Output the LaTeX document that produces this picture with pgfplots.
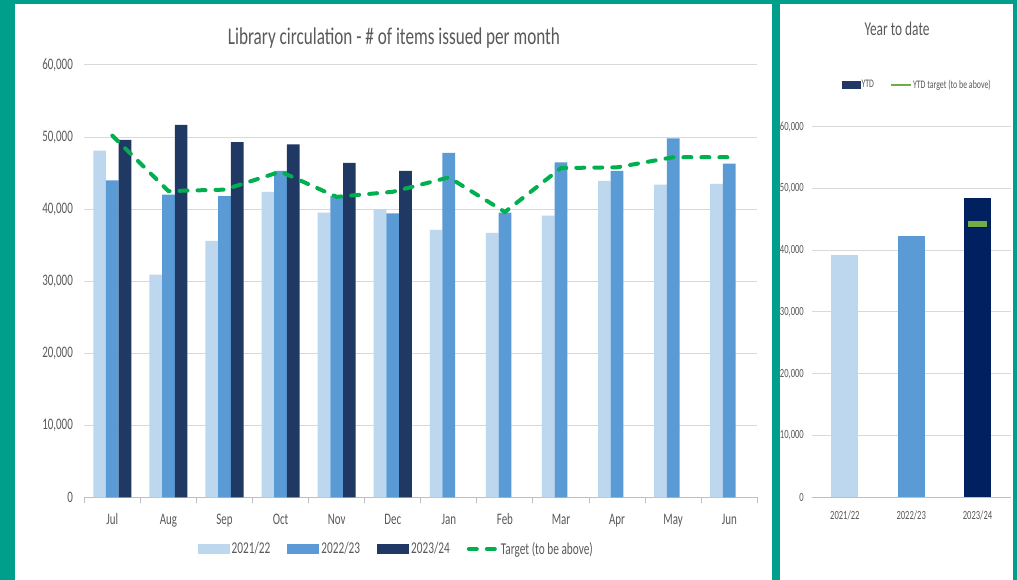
\documentclass[border=0pt]{standalone}
\usepackage{fontspec}
\setmainfont[FakeStretch=0.685]{Carlito}
\newfontfamily\titlefont[FakeStretch=0.715]{Carlito}
\usepackage{pgfplots}
\pgfplotsset{compat=1.18}
\definecolor{tealbg}{HTML}{009F8C}
\definecolor{clight}{HTML}{BDD7EE}
\definecolor{cmid}{HTML}{5B9BD5}
\definecolor{cdark}{HTML}{203864}
\definecolor{cnavy}{HTML}{002060}
\definecolor{cgreen}{HTML}{00B050}
\definecolor{cgreentwo}{HTML}{70AD47}
\definecolor{txtgray}{HTML}{595959}
\definecolor{gridgray}{HTML}{D9D9D9}
\definecolor{axisgray}{HTML}{BFBFBF}
\begin{document}
\begin{tikzpicture}[x=1pt,y=1pt]
\path[use as bounding box] (0,0) rectangle (1017,580);
\fill[tealbg] (0,0) rectangle (1017,580);
\fill[white] (15,0) rectangle (772,576);
\fill[white] (780,0) rectangle (1013,576);
\node[font=\titlefont\fontsize{24}{28}\selectfont, text=txtgray, anchor=base, inner sep=0pt] at (394,535) {Library circulation - \# of items issued per month};
\node[font=\fontsize{19.5}{23}\selectfont, text=txtgray, anchor=base, inner sep=0pt] at (897,544) {Year to date};

\begin{axis}[
  at={(84.3pt,82.7pt)}, anchor=south west, scale only axis,
  width=673pt, height=432.3pt,
  xmin=-0.5, xmax=11.5, ymin=0, ymax=60000,
  axis x line*=bottom, axis y line*=left,
  y axis line style={draw=none},
  x axis line style={draw=axisgray, line width=1pt},
  xtick={0,...,11},
  xticklabels={Jul,Aug,Sep,Oct,Nov,Dec,Jan,Feb,Mar,Apr,May,Jun},
  major x tick style={draw=none},
  minor xtick={-0.5,0.5,...,11.5},
  minor x tick style={draw=axisgray, line width=1pt},
  minor tick length=6pt, tick align=outside,
  ytick={0,10000,...,60000},
  ytick style={draw=none},
  ymajorgrids, grid style={draw=gridgray, line width=1pt},
  scaled y ticks=false,
  /pgf/number format/.cd, 1000 sep={,}, assume math mode=true, /pgfplots/.cd,
  tick label style={font=\fontsize{16}{19}\selectfont, text=txtgray},
  yticklabel style={anchor=east, inner sep=0pt, xshift=-7pt},
  xticklabel style={anchor=base, inner sep=0pt, yshift=-23pt},
  legend columns=4,
  legend style={at={(0.4635,-0.1196)}, anchor=center, draw=none, fill=none,
    font=\fontsize{16.5}{19}\selectfont, text=txtgray, inner sep=0pt,
    nodes={inner xsep=2pt, inner ysep=0pt},
    /tikz/every even column/.append style={column sep=15pt}},
]
\addplot[ybar, bar width=12.7pt, bar shift=-12.7pt, fill=clight, draw=none,
  legend image code/.code={\fill[clight] (0pt,-5pt) rectangle (32pt,5pt);}]
  coordinates {(0,48100) (1,30900) (2,35600) (3,42400) (4,39500) (5,40000)
               (6,37100) (7,36700) (8,39100) (9,43900) (10,43400) (11,43500)};
\addlegendentry{2021/22}
\addplot[ybar, bar width=12.7pt, bar shift=0pt, fill=cmid, draw=none,
  legend image code/.code={\fill[cmid] (0pt,-5pt) rectangle (32pt,5pt);}]
  coordinates {(0,44000) (1,42000) (2,41800) (3,45300) (4,41800) (5,39400)
               (6,47800) (7,39500) (8,46500) (9,45300) (10,49800) (11,46300)};
\addlegendentry{2022/23}
\addplot[ybar, bar width=12.7pt, bar shift=12.7pt, fill=cdark, draw=none,
  legend image code/.code={\fill[cdark] (0pt,-5pt) rectangle (32pt,5pt);}]
  coordinates {(0,49600) (1,51700) (2,49300) (3,49000) (4,46400) (5,45300)};
\addlegendentry{2023/24}
\addplot[cgreen, line width=4pt, dash pattern=on 8pt off 10pt, line cap=round, mark=none,
  legend image code/.code={\draw[cgreen, line width=4pt, dash pattern=on 8pt off 10pt, line cap=round] (2pt,0pt) -- (30pt,0pt);}]
  coordinates {(0,50200) (1,42500) (2,42700) (3,45200) (4,41700) (5,42400)
               (6,44400) (7,39600) (8,45700) (9,45800) (10,47200) (11,47200)};
\addlegendentry{Target (to be above)}
\end{axis}

\begin{axis}[
  at={(811.7pt,82.7pt)}, anchor=south west, scale only axis,
  width=199pt, height=370.6pt,
  xmin=-0.5, xmax=2.5, ymin=0, ymax=60000,
  axis x line*=bottom, axis y line*=left,
  y axis line style={draw=none},
  x axis line style={draw=axisgray, line width=1pt},
  xtick={0,1,2},
  xticklabels={2021/22,2022/23,2023/24},
  xtick style={draw=none},
  ytick={0,10000,...,60000},
  ytick style={draw=none},
  ymajorgrids, grid style={draw=gridgray, line width=1pt},
  scaled y ticks=false,
  /pgf/number format/.cd, 1000 sep={,}, assume math mode=true, /pgfplots/.cd,
  tick label style={font=\fontsize{12.5}{15}\selectfont, text=txtgray},
  yticklabel style={anchor=east, inner sep=0pt, xshift=-7.7pt},
  xticklabel style={anchor=base, inner sep=0pt, yshift=-22pt},
  legend columns=2,
  legend style={at={(0.529,1.113)}, anchor=center, draw=none, fill=none,
    font=\fontsize{11.5}{13}\selectfont, text=txtgray, inner sep=0pt,
    nodes={inner xsep=1pt, inner ysep=0pt},
    /tikz/every even column/.append style={column sep=15pt}},
]
\addlegendimage{legend image code/.code={\fill[cdark] (0pt,-3.5pt) rectangle (18pt,3.5pt);}}
\addlegendentry{YTD}
\addlegendimage{legend image code/.code={\draw[cgreentwo, line width=2pt] (0pt,0pt) -- (20pt,0pt);}}
\addlegendentry{YTD target (to be above)}
\addplot[ybar, bar width=27pt, bar shift=0pt, fill=clight, draw=none, forget plot] coordinates {(0,39200)};
\addplot[ybar, bar width=27pt, bar shift=0pt, fill=cmid, draw=none, forget plot] coordinates {(1,42300)};
\addplot[ybar, bar width=27pt, bar shift=0pt, fill=cnavy, draw=none, forget plot] coordinates {(2,48500)};
\addplot[only marks, mark=-, mark size=9.5pt, mark options={draw=black, opacity=0.35, line width=6pt, yshift=-1.5pt}, forget plot] coordinates {(2,44300)};
\addplot[only marks, mark=-, mark size=9.5pt, mark options={draw=cgreentwo, line width=6pt}, forget plot] coordinates {(2,44300)};
\end{axis}
\end{tikzpicture}
\end{document}
